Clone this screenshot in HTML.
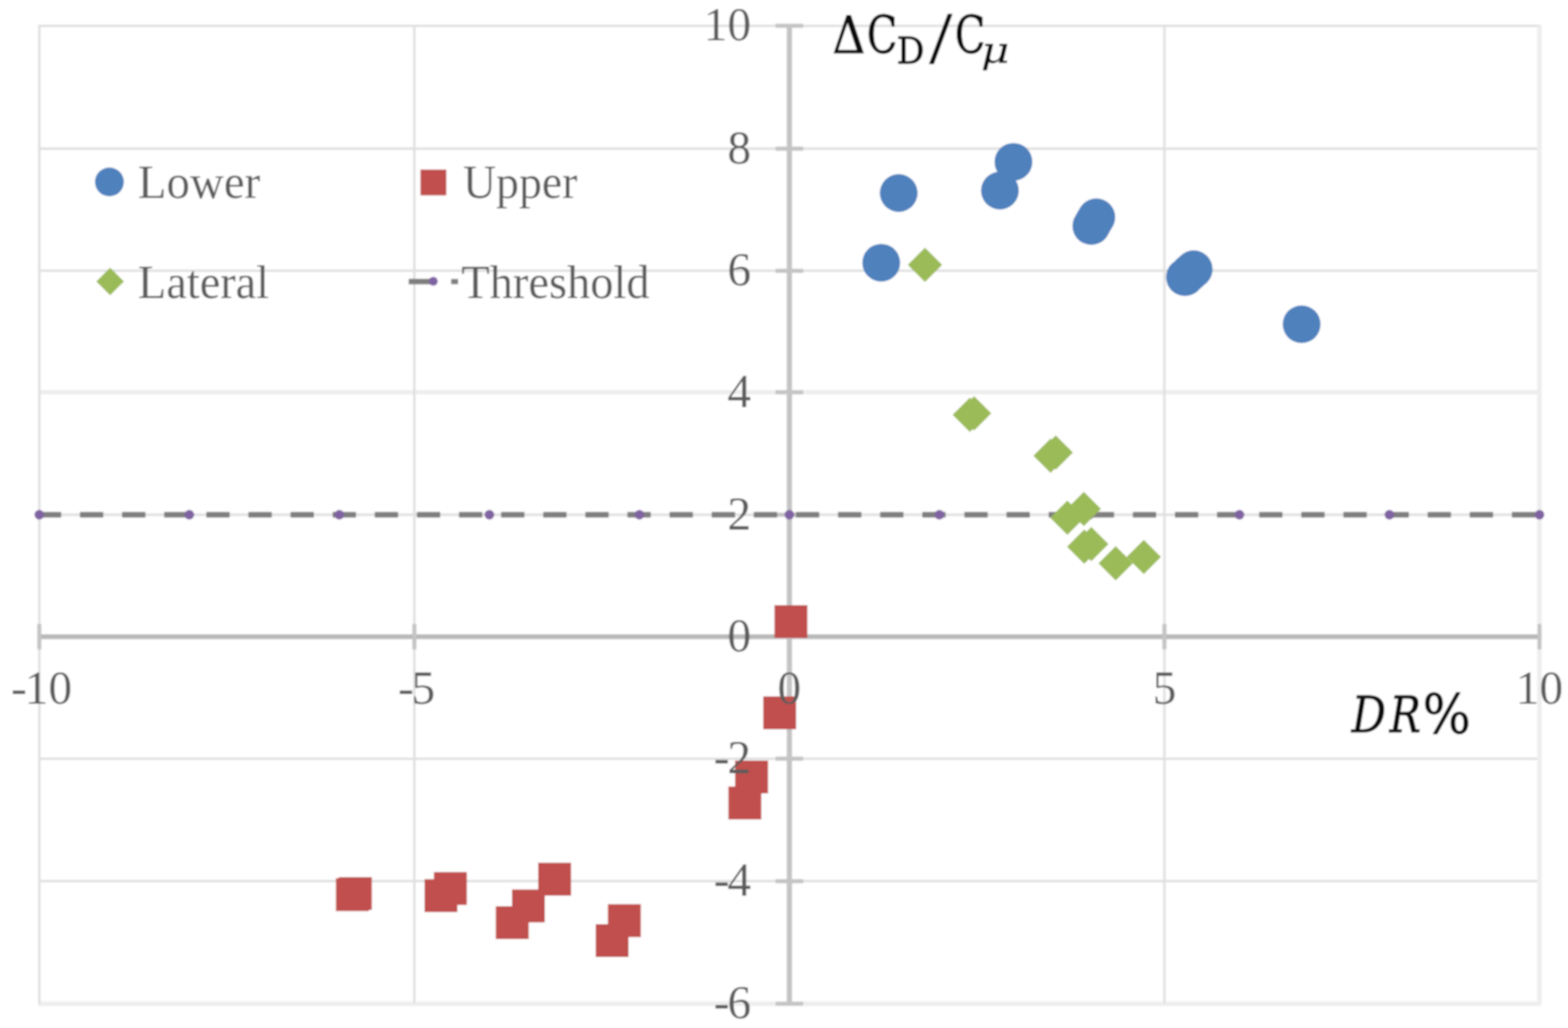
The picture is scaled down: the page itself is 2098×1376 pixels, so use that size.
<!DOCTYPE html>
<html lang="en">
<head>
<meta charset="utf-8">
<title>Drag reduction chart</title>
<style>
html,body{margin:0;padding:0;background:#fff;}
body{width:2098px;height:1376px;overflow:hidden;}
svg{display:block;}
.tick{font-family:"Liberation Serif","DejaVu Serif",serif;font-size:63.5px;fill:#5c5c5c;}
.leg{font-family:"Liberation Serif","DejaVu Serif",serif;font-size:63px;fill:#5c5c5c;}
.ttl{font-family:"DejaVu Serif","Liberation Serif",serif;fill:#111;stroke:#111;stroke-width:1.2px;stroke-linejoin:round;}
</style>
</head>
<body>
<svg width="2098" height="1376" viewBox="0 0 2098 1376">
<defs><filter id="soft" x="0" y="0" width="2098" height="1376" filterUnits="userSpaceOnUse"><feGaussianBlur stdDeviation="1.2"/></filter></defs>
<rect width="2098" height="1376" fill="#ffffff"/>
<g filter="url(#soft)">
<rect width="2098" height="1376" fill="#ffffff"/>

<g id="grid" stroke="#e0e0e0" stroke-width="3.3" fill="none">
<line x1="50.9" y1="34.6" x2="2061.5" y2="34.6"/>
<line x1="50.9" y1="199.0" x2="2061.5" y2="199.0"/>
<line x1="50.9" y1="362.4" x2="2061.5" y2="362.4"/>
<line x1="50.9" y1="525.0" x2="2061.5" y2="525.0" stroke="#eeeeee" stroke-width="6"/>
<line x1="50.9" y1="689.0" x2="2061.5" y2="689.0"/>
<line x1="50.9" y1="1015.6" x2="2061.5" y2="1015.6"/>
<line x1="50.9" y1="1179.4" x2="2061.5" y2="1179.4"/>
<line x1="50.9" y1="1343.4" x2="2061.5" y2="1343.4" stroke="#eeeeee" stroke-width="6"/>
<line x1="52.6" y1="34.6" x2="52.6" y2="1343.4"/>
<line x1="554.4" y1="34.6" x2="554.4" y2="1343.4"/>
<line x1="1558.0" y1="34.6" x2="1558.0" y2="1343.4"/>
<line x1="2059.8" y1="34.6" x2="2059.8" y2="1343.4" stroke="#eeeeee" stroke-width="6"/>
</g>
<g id="axes" stroke="#c4c4c4" stroke-width="7" fill="none">
<line x1="52.6" y1="852.2" x2="2059.8" y2="852.2" stroke="#b9b9b9" stroke-width="6.4"/>
<line x1="1056.2" y1="34.6" x2="1056.2" y2="1343.4"/>
<line x1="52.6" y1="835.2" x2="52.6" y2="869.2" stroke-width="5.5"/>
<line x1="554.4" y1="835.2" x2="554.4" y2="869.2" stroke-width="5.5"/>
<line x1="1056.2" y1="835.2" x2="1056.2" y2="869.2" stroke-width="5.5"/>
<line x1="1558.0" y1="835.2" x2="1558.0" y2="869.2" stroke-width="5.5"/>
<line x1="2059.8" y1="835.2" x2="2059.8" y2="869.2" stroke-width="5.5"/>
<line x1="1037.7" y1="34.6" x2="1074.7" y2="34.6" stroke-width="5.5"/>
<line x1="1037.7" y1="199.0" x2="1074.7" y2="199.0" stroke-width="5.5"/>
<line x1="1037.7" y1="362.4" x2="1074.7" y2="362.4" stroke-width="5.5"/>
<line x1="1037.7" y1="525.0" x2="1074.7" y2="525.0" stroke-width="5.5"/>
<line x1="1037.7" y1="689.0" x2="1074.7" y2="689.0" stroke-width="5.5"/>
<line x1="1037.7" y1="852.2" x2="1074.7" y2="852.2" stroke-width="5.5"/>
<line x1="1037.7" y1="1015.6" x2="1074.7" y2="1015.6" stroke-width="5.5"/>
<line x1="1037.7" y1="1179.4" x2="1074.7" y2="1179.4" stroke-width="5.5"/>
<line x1="1037.7" y1="1343.4" x2="1074.7" y2="1343.4" stroke-width="5.5"/>
</g>
<g id="threshold">
<line x1="50.6" y1="689.0" x2="2059.8" y2="689.0" stroke="#7f7f7f" stroke-width="7.4" stroke-dasharray="31.3 25.05"/>
<circle cx="52.6" cy="689.0" r="6.5" fill="#8064a2"/>
<circle cx="253.3" cy="689.0" r="6.5" fill="#8064a2"/>
<circle cx="454.0" cy="689.0" r="6.5" fill="#8064a2"/>
<circle cx="654.8" cy="689.0" r="6.5" fill="#8064a2"/>
<circle cx="855.5" cy="689.0" r="6.5" fill="#8064a2"/>
<circle cx="1056.2" cy="689.0" r="6.5" fill="#8064a2"/>
<circle cx="1256.9" cy="689.0" r="6.5" fill="#8064a2"/>
<circle cx="1457.6" cy="689.0" r="6.5" fill="#8064a2"/>
<circle cx="1658.4" cy="689.0" r="6.5" fill="#8064a2"/>
<circle cx="1859.1" cy="689.0" r="6.5" fill="#8064a2"/>
<circle cx="2059.8" cy="689.0" r="6.5" fill="#8064a2"/>
</g>
<g id="upper" fill="#c0504d">
<rect x="1036.3" y="810.0" width="44" height="44"/>
<rect x="1021.2" y="932.1" width="44" height="44"/>
<rect x="983.6" y="1018.0" width="44" height="44"/>
<rect x="974.6" y="1052.8" width="44" height="44"/>
<rect x="720.1" y="1154.8" width="44" height="44"/>
<rect x="685.0" y="1190.6" width="44" height="44"/>
<rect x="663.4" y="1213.0" width="44" height="44"/>
<rect x="813.4" y="1210.3" width="44" height="44"/>
<rect x="797.0" y="1237.0" width="44" height="44"/>
<rect x="449.5" y="1175.5" width="44" height="44"/>
<rect x="453.5" y="1174.0" width="44" height="44"/>
<rect x="568.0" y="1176.8" width="44" height="44"/>
<rect x="580.6" y="1167.3" width="44" height="44"/>
</g>
<g id="lateral" fill="#9bbb59">
<path d="M1237.6 331.4l23 23l-23 23l-23 -23z"/>
<path d="M1297.6 532.2l23 23l-23 23l-23 -23z"/>
<path d="M1303.4 530.2l23 23l-23 23l-23 -23z"/>
<path d="M1405.7 587.0l23 23l-23 23l-23 -23z"/>
<path d="M1412.6 582.8l23 23l-23 23l-23 -23z"/>
<path d="M1428.1 670.0l23 23l-23 23l-23 -23z"/>
<path d="M1450.2 658.3l23 23l-23 23l-23 -23z"/>
<path d="M1450.7 708.8l23 23l-23 23l-23 -23z"/>
<path d="M1460.2 705.3l23 23l-23 23l-23 -23z"/>
<path d="M1492.8 731.1l23 23l-23 23l-23 -23z"/>
<path d="M1530.4 722.5l23 23l-23 23l-23 -23z"/>
</g>
<g id="lower" fill="#4f81bd">
<circle cx="1179.1" cy="351.7" r="25.3"/>
<circle cx="1202.5" cy="258.4" r="25.3"/>
<circle cx="1337.9" cy="255.1" r="25.3"/>
<circle cx="1356.0" cy="216.7" r="25.3"/>
<circle cx="1460.2" cy="302.5" r="25.3"/>
<circle cx="1463.5" cy="296.6" r="25.3"/>
<circle cx="1466.9" cy="290.8" r="25.3"/>
<circle cx="1585.5" cy="371.0" r="25.3"/>
<circle cx="1591.3" cy="365.7" r="25.3"/>
<circle cx="1597.2" cy="360.4" r="25.3"/>
<circle cx="1741.6" cy="434.0" r="25.3"/>
</g>
<g id="ylabels" class="tick" text-anchor="end">
<text x="1005" y="54.4">10</text>
<text x="1005" y="218.8">8</text>
<text x="1005" y="382.2">6</text>
<text x="1005" y="544.8">4</text>
<text x="1005" y="708.8">2</text>
<text x="1005" y="872.0">0</text>
<text x="1005" y="1035.4"><tspan>-</tspan><tspan dx="-3">2</tspan></text>
<text x="1005" y="1199.2"><tspan>-</tspan><tspan dx="-3">4</tspan></text>
<text x="1005" y="1363.2"><tspan>-</tspan><tspan dx="-3">6</tspan></text>
</g>
<g id="xlabels" class="tick" text-anchor="middle">
<text x="52.6" y="941.8"><tspan dx="3">-</tspan><tspan dx="-3">10</tspan></text>
<text x="554.4" y="941.8"><tspan dx="3">-</tspan><tspan dx="-3">5</tspan></text>
<text x="1056.2" y="941.8">0</text>
<text x="1558.0" y="941.8">5</text>
<text x="2059.8" y="941.8">10</text>
</g>
<g id="legend">
<circle cx="146.4" cy="243.5" r="19.3" fill="#4f81bd"/>
<text class="leg" x="184.6" y="265" textLength="163.5" lengthAdjust="spacingAndGlyphs">Lower</text>
<rect x="562.6" y="226.9" width="34.6" height="34.6" fill="#c0504d"/>
<text class="leg" x="619.6" y="265" textLength="153" lengthAdjust="spacingAndGlyphs">Upper</text>
<path d="M147.4 358.3l18.5 18.5l-18.5 18.5l-18.5 -18.5z" fill="#9bbb59"/>
<text class="leg" x="184.6" y="398.5" textLength="175.5" lengthAdjust="spacingAndGlyphs">Lateral</text>
<line x1="546.8" y1="376.9" x2="576" y2="376.9" stroke="#7f7f7f" stroke-width="7.4"/>
<line x1="603.6" y1="376.9" x2="613" y2="376.9" stroke="#7f7f7f" stroke-width="7"/>
<circle cx="579.7" cy="376.6" r="6" fill="#8064a2"/>
<text class="leg" x="617.2" y="398.5" textLength="252" lengthAdjust="spacingAndGlyphs">Threshold</text>
</g>

<g id="titles">
<text class="ttl"><tspan x="1113.8" y="70.8" font-size="68.7" textLength="44.0" lengthAdjust="spacingAndGlyphs">Δ</tspan><tspan x="1159.7" y="70.8" font-size="68.7" textLength="41.0" lengthAdjust="spacingAndGlyphs">C</tspan><tspan x="1199.8" y="85.3" font-size="48.8" textLength="37.1" lengthAdjust="spacingAndGlyphs">D</tspan><tspan x="1243.8" y="83.9" font-size="99.9" font-family='"Liberation Serif","DejaVu Serif",serif' textLength="30.0" lengthAdjust="spacingAndGlyphs">/</tspan><tspan x="1277.4" y="70.8" font-size="68.7" textLength="40.9" lengthAdjust="spacingAndGlyphs">C</tspan><tspan x="1312.6" y="84.2" font-size="48.2" font-style="italic" stroke-width="0.3" textLength="38.2" lengthAdjust="spacingAndGlyphs">μ</tspan></text>
<text class="ttl"><tspan x="1808.4" y="979.7" font-size="67.2" font-style="italic" textLength="46.0" lengthAdjust="spacingAndGlyphs">D</tspan><tspan x="1859.2" y="979.7" font-size="67.2" font-style="italic" textLength="42.0" lengthAdjust="spacingAndGlyphs">R</tspan><tspan x="1903.5" y="982.0" font-size="72.7" textLength="64.4" lengthAdjust="spacingAndGlyphs">%</tspan></text>
</g>
</g>
</svg>
</body>
</html>
